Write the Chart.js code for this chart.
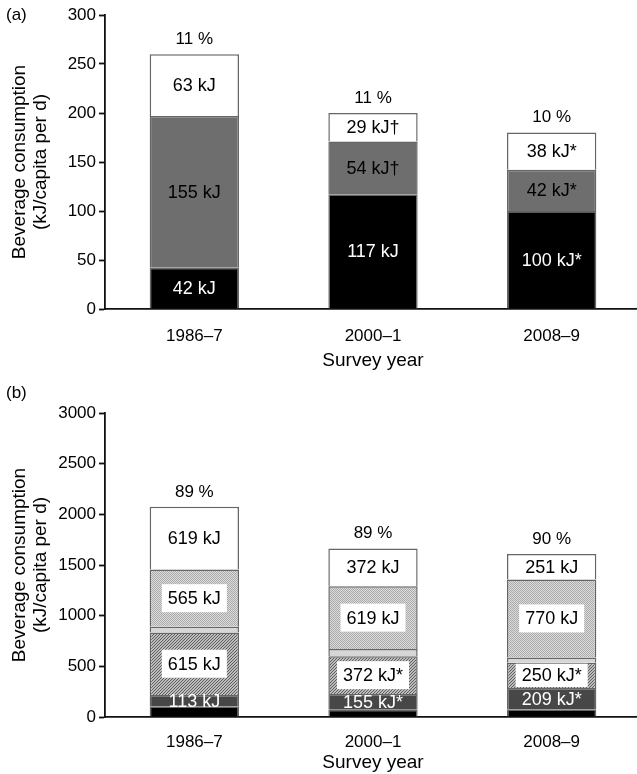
<!DOCTYPE html>
<html>
<head>
<meta charset="utf-8">
<script src="https://cdn.jsdelivr.net/npm/chart.js@4.4.0/dist/chart.umd.min.js"></script>
<style>
  html, body { margin: 0; padding: 0; background: #fff; overflow: hidden; }
  #page { position: relative; width: 637px; height: 774px; overflow: hidden; }
  canvas { position: absolute; left: 0; }
  .tag { position: absolute; left: 6px; font: 17px 'Liberation Sans', Arial, sans-serif; color: #000; }
</style>
</head>
<body>
<div id="page">
  <canvas id="chartA" style="top:0" width="641" height="380"></canvas>
  <canvas id="chartB" style="top:380px" width="641" height="394"></canvas>
  <div class="tag" style="top:5px">(a)</div>
  <div class="tag" style="top:383px">(b)</div>
</div>
<script>
const FONT = "'Liberation Sans', Arial, sans-serif";

const years = ['1986–7', '2000–1', '2008–9'];

// panel (a), kJ/capita per d
const aBlack = [42, 117, 100];
const aGray = [155, 54, 42];
const aWhite = [63, 29, 38];
const aBlackText = ['42 kJ', '117 kJ', '100 kJ*'];
const aGrayText = ['155 kJ', '54 kJ†', '42 kJ*'];
const aWhiteText = ['63 kJ', '29 kJ†', '38 kJ*'];
const aPercent = ['11 %', '11 %', '10 %'];

// panel (b), kJ/capita per d
const bBlack = [105, 72, 77];
const bDark = [113, 155, 209];
const bHatch = [615, 372, 250];
const bLight = [57, 72, 52];
const bDots = [565, 619, 770];
const bWhite = [619, 372, 251];
const bDarkText = ['113 kJ', '155 kJ*', '209 kJ*'];
const bHatchText = ['615 kJ', '372 kJ*', '250 kJ*'];
const bDotsText = ['565 kJ', '619 kJ', '770 kJ'];
const bWhiteText = ['619 kJ', '372 kJ', '251 kJ'];
const bPercent = ['89 %', '89 %', '90 %'];

function hatchPattern() {
    const c = document.createElement('canvas');
    c.width = 3; c.height = 3;
    const x = c.getContext('2d');
    x.fillStyle = '#bcbcbc';
    x.fillRect(0, 0, 3, 3);
    x.fillStyle = '#5e5e5e';
    x.fillRect(0, 2, 1, 1);
    x.fillRect(1, 1, 1, 1);
    x.fillRect(2, 0, 1, 1);
    return x.createPattern(c, 'repeat');
}

function dotPattern() {
    const c = document.createElement('canvas');
    c.width = 2; c.height = 2;
    const x = c.getContext('2d');
    x.fillStyle = '#dcdcdc';
    x.fillRect(0, 0, 2, 2);
    x.fillStyle = '#aaaaaa';
    x.fillRect(0, 0, 1, 1);
    x.fillRect(1, 1, 1, 1);
    return x.createPattern(c, 'repeat');
}

const segmentLabels = {
    id: 'segmentLabels',
    afterDatasetsDraw(chart, args, opts) {
        const ctx = chart.ctx;
        ctx.save();
        ctx.textAlign = 'center';
        ctx.textBaseline = 'middle';
        chart.data.datasets.forEach((ds, di) => {
            if (!ds.texts) return;
            chart.getDatasetMeta(di).data.forEach((bar, i) => {
                const text = ds.texts[i];
                const cy = (bar.y + bar.base) / 2;
                ctx.font = '18px ' + FONT;
                if (ds.boxed) {
                    const w = ctx.measureText(text).width + 12;
                    const h = Math.min(28, Math.abs(bar.base - bar.y) - 2);
                    ctx.fillStyle = '#fff';
                    ctx.fillRect(bar.x - w / 2, cy - h / 2, w, h);
                }
                ctx.fillStyle = ds.textColor;
                ctx.fillText(text, bar.x, cy + 1);
            });
        });
        const top = chart.getDatasetMeta(chart.data.datasets.length - 1).data;
        ctx.font = '17px ' + FONT;
        ctx.fillStyle = '#000';
        top.forEach((bar, i) => ctx.fillText(opts.percent[i], bar.x, bar.y - 15));
        ctx.restore();
    }
};

function bar(data, color, texts, textColor, boxed) {
    return {
        data: data,
        backgroundColor: color,
        borderColor: '#666666',
        borderWidth: 1.5,
        barPercentage: 0.5,
        categoryPercentage: 1.0,
        texts: texts,
        textColor: textColor,
        boxed: boxed
    };
}

function options(cfg) {
    return {
        responsive: false,
        animation: false,
        layout: { padding: { top: cfg.top, right: 0, bottom: 0, left: 0 } },
        plugins: {
            legend: { display: false },
            tooltip: { enabled: false },
            segmentLabels: { percent: cfg.percent }
        },
        scales: {
            x: {
                stacked: true,
                grid: { display: false },
                border: { display: true, color: '#111', width: 1.8 },
                ticks: { color: '#000', padding: cfg.tickPad, font: { family: FONT, size: 17 } },
                title: {
                    display: true,
                    text: 'Survey year',
                    color: '#000',
                    font: { family: FONT, size: 19, lineHeight: 1.1 },
                    padding: { top: 0, bottom: cfg.titlePad }
                },
                afterFit: s => { s.height = cfg.xHeight; }
            },
            y: {
                stacked: true,
                min: 0,
                max: cfg.max,
                grid: {
                    display: true,
                    drawOnChartArea: false,
                    drawTicks: true,
                    tickLength: 6,
                    tickColor: '#111',
                    tickWidth: 1.8
                },
                border: { display: true, color: '#111', width: 1.8 },
                ticks: {
                    stepSize: cfg.step,
                    color: '#000',
                    padding: 3,
                    font: { family: FONT, size: 17 },
                    callback: v => String(v)
                },
                title: {
                    display: true,
                    text: ['Beverage consumption', '(kJ/capita per d)'],
                    color: '#000',
                    font: { family: FONT, size: 19, lineHeight: 1.1 },
                    padding: { top: 9, bottom: 0 }
                },
                afterFit: s => { s.width = 105; }
            }
        }
    };
}

new Chart(document.getElementById('chartA'), {
    type: 'bar',
    data: {
        labels: years,
        datasets: [
            bar(aBlack, '#000000', aBlackText, '#fff', false),
            bar(aGray, '#6e6e6e', aGrayText, '#000', false),
            bar(aWhite, '#ffffff', aWhiteText, '#000', false)
        ]
    },
    options: options({ max: 300, step: 50, top: 15, xHeight: 71, tickPad: 9, titlePad: 9, percent: aPercent }),
    plugins: [segmentLabels]
});

new Chart(document.getElementById('chartB'), {
    type: 'bar',
    data: {
        labels: years,
        datasets: [
            bar(bBlack, '#000000', null, '#fff', false),
            bar(bDark, '#474747', bDarkText, '#fff', false),
            bar(bHatch, hatchPattern(), bHatchText, '#000', true),
            bar(bLight, '#d6d6d6', null, '#000', false),
            bar(bDots, dotPattern(), bDotsText, '#000', true),
            bar(bWhite, '#ffffff', bWhiteText, '#000', false)
        ]
    },
    options: options({ max: 3000, step: 500, top: 33, xHeight: 57, tickPad: 7, titlePad: 1, percent: bPercent }),
    plugins: [segmentLabels]
});
</script>
</body>
</html>
